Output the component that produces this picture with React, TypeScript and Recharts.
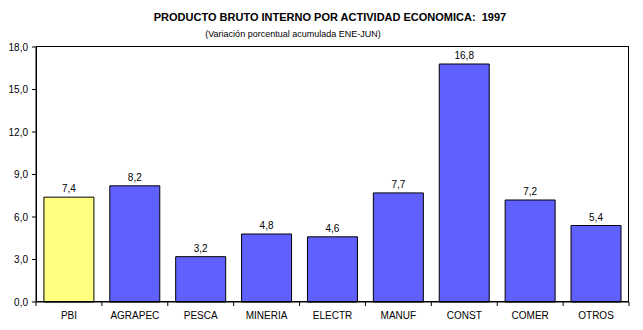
import { Bar, BarChart, Cell, LabelList, XAxis, YAxis } from "recharts";

const categories = ["PBI", "AGRAPEC", "PESCA", "MINERIA", "ELECTR", "MANUF", "CONST", "COMER", "OTROS"];
const values = [7.4, 8.2, 3.2, 4.8, 4.6, 7.7, 16.8, 7.2, 5.4];
const yTicks = [0, 3, 6, 9, 12, 15, 18];

const data = categories.map((name, i) => ({ name, value: values[i] }));

const fmt = (v: number) => v.toFixed(1).replace(".", ",");
const font = "Arial, 'Liberation Sans', sans-serif";

const W = 643;
const H = 330;
const M = { top: 47, right: 14, left: 0, bottom: 0 };
const Y_W = 36;
const X_H = 28;
const TICK = 4;
const GAP = 6;
const plotW = W - M.left - M.right - Y_W;
const plotH = H - M.top - M.bottom - X_H;
const band = plotW / categories.length;

// category ticks: label at band centre, small tick marks at band edges
function CatTick(props: any) {
  const { x, y, payload, index } = props;
  const y0 = y - TICK - GAP;
  return (
    <g>
      {index === 0 && <line x1={x - band / 2} x2={x - band / 2} y1={y0} y2={y0 + TICK} stroke="#000" />}
      <line x1={x + band / 2} x2={x + band / 2} y1={y0} y2={y0 + TICK} stroke="#000" />
      <text x={x} y={y} dy="0.71em" textAnchor="middle" fill="#000" fontSize={10} fontFamily={font}>
        {payload.value}
      </text>
    </g>
  );
}

export default function App() {
  return (
    <div style={{ position: "absolute", left: 0, top: 0, width: W, height: H, background: "#fff", fontFamily: font }}>
      <div style={{ position: "absolute", left: 0, width: 660, top: 11, textAlign: "center", fontSize: 11, fontWeight: "bold" }}>
        PRODUCTO BRUTO INTERNO POR ACTIVIDAD ECONOMICA:&nbsp; 1997
      </div>
      <div style={{ position: "absolute", left: 0, width: 586, top: 29, textAlign: "center", fontSize: 9 }}>
        (Variación porcentual acumulada ENE-JUN)
      </div>
      <BarChart width={W} height={H} data={data} margin={M} barCategoryGap="12%">
        <XAxis
          dataKey="name"
          height={X_H}
          axisLine={{ stroke: "#000" }}
          tickLine={false}
          tickSize={TICK}
          tickMargin={GAP}
          interval={0}
          tick={<CatTick />}
        />
        <YAxis
          domain={[0, 18]}
          ticks={yTicks}
          width={Y_W}
          tickSize={TICK}
          tickMargin={4}
          tickFormatter={fmt}
          axisLine={{ stroke: "#000" }}
          tickLine={{ stroke: "#000" }}
          tick={{ fill: "#000", fontSize: 10, fontFamily: font }}
        />
        <Bar dataKey="value" stroke="#000" strokeWidth={1} isAnimationActive={false}>
          {data.map((d, i) => (
            <Cell key={d.name} fill={i === 0 ? "#FFFF80" : "#6060FF"} />
          ))}
          <LabelList dataKey="value" position="top" offset={5} formatter={(v: any) => fmt(Number(v))} fill="#000" fontSize={10} fontFamily={font} />
        </Bar>
      </BarChart>
      {/* plot frame */}
      <div
        style={{
          position: "absolute",
          left: M.left + Y_W,
          top: M.top - 1,
          width: plotW,
          height: plotH + 1,
          border: "1px solid #000",
          boxSizing: "border-box",
          pointerEvents: "none",
        }}
      />
    </div>
  );
}
